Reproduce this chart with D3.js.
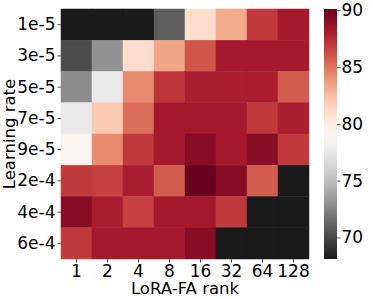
<!DOCTYPE html>
<html>
<head>
<meta charset="utf-8">
<script src="https://cdn.jsdelivr.net/npm/d3@7"></script>
<style>
  body { margin: 0; background: #fff; }
  text { font-family: "DejaVu Sans", sans-serif; fill: #000; }
</style>
</head>
<body>
<div id="chart"></div>
<script>
// data
const ranks = ["1", "2", "4", "8", "16", "32", "64", "128"];
const lrs = ["1e-5", "3e-5", "5e-5", "7e-5", "9e-5", "2e-4", "4e-4", "6e-4"];
const acc = [
  [68.1, 68.1, 68.1, 70.9, 81.0, 83.2, 86.9, 88.2],
  [70.2, 73.0, 81.0, 83.4, 86.0, 88.2, 88.2, 88.2],
  [72.8, 77.7, 84.3, 87.1, 88.0, 88.0, 88.0, 85.8],
  [77.7, 81.9, 85.2, 88.2, 88.2, 88.2, 86.9, 88.0],
  [79.1, 84.3, 86.9, 88.2, 89.1, 88.2, 89.1, 86.9],
  [86.9, 86.7, 88.0, 85.8, 90.1, 89.1, 85.8, 68.1],
  [89.1, 88.0, 86.7, 88.2, 88.2, 86.9, 68.1, 68.1],
  [86.9, 88.2, 88.2, 88.2, 89.1, 68.1, 68.1, 68.1]
];
const cbTicks = [70, 75, 80, 85, 90];
const vmin = 68.1, vmax = 90.1;

const w = 373, h = 299;
const mLeft = 61, mRight = 309, mTop = 9, mBottom = 259;

const svg = d3.select('#chart').append('svg')
  .attr('width', w).attr('height', h);

const x = d3.scaleBand().domain(ranks).range([mLeft, mRight]);
const y = d3.scaleBand().domain(lrs).range([mTop, mBottom]);
const t = d3.scaleLinear().domain([vmin, vmax]).range([0, 1]).clamp(true);
const color = v => d3.interpolateRdGy(1 - t(v));

/* cells */
const cells = [];
acc.forEach((row, i) => row.forEach((v, j) => cells.push({ lr: lrs[i], rank: ranks[j], v })));

svg.append('g')
  .selectAll('rect')
  .data(cells)
  .join('rect')
  .attr('x', d => x(d.rank))
  .attr('y', d => y(d.lr))
  .attr('width', x.bandwidth())
  .attr('height', y.bandwidth())
  .attr('fill', d => color(d.v))
  .attr('stroke', d => color(d.v))
  .attr('stroke-width', 0.5);

/* axes */
const xAxis = svg.append('g')
  .attr('transform', `translate(0,${mBottom})`)
  .call(d3.axisBottom(x).tickSize(3.5).tickPadding(2));
const yAxis = svg.append('g')
  .attr('transform', `translate(${mLeft},0)`)
  .call(d3.axisLeft(y).tickSize(3.5).tickPadding(2));
[xAxis, yAxis].forEach(a => {
  a.select('.domain').remove();
  a.selectAll('line').attr('stroke', '#333').attr('stroke-width', 0.8);
  a.selectAll('text').style('font-size', '17px').style('font-family', 'DejaVu Sans');
});

svg.append('text')
  .attr('x', (mLeft + mRight) / 2)
  .attr('y', 294)
  .attr('text-anchor', 'middle')
  .style('font-size', '16.5px')
  .text('LoRA-FA rank');

svg.append('text')
  .attr('transform', `translate(15,${(mTop + mBottom) / 2}) rotate(-90)`)
  .attr('text-anchor', 'middle')
  .style('font-size', '16.5px')
  .text('Learning rate');

/* colorbar */
const cbX = 324, cbW = 13;
const cbY = d3.scaleLinear().domain([vmin, vmax]).range([mBottom, mTop]);
const grad = svg.append('defs').append('linearGradient')
  .attr('id', 'cb').attr('x1', 0).attr('x2', 0).attr('y1', 1).attr('y2', 0);
d3.range(0, 1.0001, 0.05).forEach(s => {
  grad.append('stop').attr('offset', s).attr('stop-color', d3.interpolateRdGy(1 - s));
});
svg.append('rect')
  .attr('x', cbX).attr('y', mTop)
  .attr('width', cbW).attr('height', mBottom - mTop)
  .attr('fill', 'url(#cb)');

const cbAxis = svg.append('g')
  .attr('transform', `translate(${cbX + cbW},0)`)
  .call(d3.axisRight(cbY).tickValues(cbTicks).tickSize(3.5).tickPadding(1));
cbAxis.select('.domain').remove();
cbAxis.selectAll('line').attr('stroke', '#333').attr('stroke-width', 0.8);
cbAxis.selectAll('text').style('font-size', '17px').style('font-family', 'DejaVu Sans');
</script>
</body>
</html>
